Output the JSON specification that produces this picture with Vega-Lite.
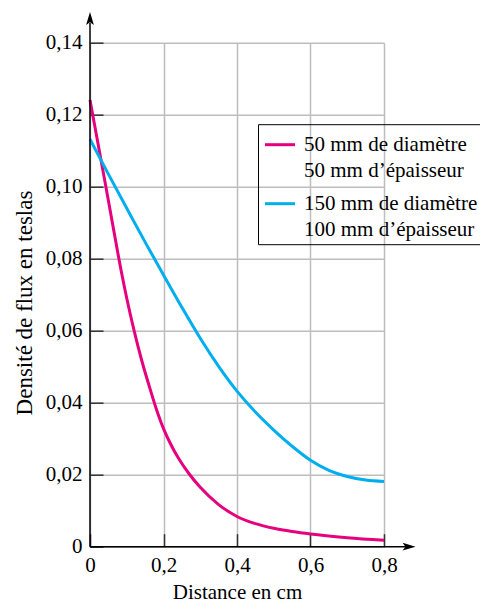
{
  "$schema": "https://vega.github.io/schema/vega-lite/v6.json",
  "width": 294,
  "height": 504,
  "autosize": {"type": "none"},
  "padding": {"left": 90, "top": 42.7, "right": 96, "bottom": 56.3},
  "background": "white",
  "config": {
    "view": {"stroke": null},
    "font": "Liberation Serif",
    "style": {
      "guide-label": {"font": "Liberation Serif", "lineHeight": 26},
      "guide-title": {"font": "Liberation Serif"}
    }
  },
  "layer": [
    {
      "data": {"values": [
        {"d": 0, "b": 0.1241, "s": "50 mm de diamètre|50 mm d’épaisseur"},
        {"d": 0.02, "b": 0.1130, "s": "50 mm de diamètre|50 mm d’épaisseur"},
        {"d": 0.04, "b": 0.1018, "s": "50 mm de diamètre|50 mm d’épaisseur"},
        {"d": 0.06, "b": 0.0905, "s": "50 mm de diamètre|50 mm d’épaisseur"},
        {"d": 0.08, "b": 0.0792, "s": "50 mm de diamètre|50 mm d’épaisseur"},
        {"d": 0.10, "b": 0.0690, "s": "50 mm de diamètre|50 mm d’épaisseur"},
        {"d": 0.12, "b": 0.0600, "s": "50 mm de diamètre|50 mm d’épaisseur"},
        {"d": 0.14, "b": 0.0520, "s": "50 mm de diamètre|50 mm d’épaisseur"},
        {"d": 0.16, "b": 0.0450, "s": "50 mm de diamètre|50 mm d’épaisseur"},
        {"d": 0.18, "b": 0.0384, "s": "50 mm de diamètre|50 mm d’épaisseur"},
        {"d": 0.20, "b": 0.0328, "s": "50 mm de diamètre|50 mm d’épaisseur"},
        {"d": 0.22, "b": 0.0284, "s": "50 mm de diamètre|50 mm d’épaisseur"},
        {"d": 0.24, "b": 0.0247, "s": "50 mm de diamètre|50 mm d’épaisseur"},
        {"d": 0.27, "b": 0.0202, "s": "50 mm de diamètre|50 mm d’épaisseur"},
        {"d": 0.30, "b": 0.0165, "s": "50 mm de diamètre|50 mm d’épaisseur"},
        {"d": 0.35, "b": 0.0117, "s": "50 mm de diamètre|50 mm d’épaisseur"},
        {"d": 0.40, "b": 0.0084, "s": "50 mm de diamètre|50 mm d’épaisseur"},
        {"d": 0.45, "b": 0.0064, "s": "50 mm de diamètre|50 mm d’épaisseur"},
        {"d": 0.50, "b": 0.0051, "s": "50 mm de diamètre|50 mm d’épaisseur"},
        {"d": 0.55, "b": 0.0042, "s": "50 mm de diamètre|50 mm d’épaisseur"},
        {"d": 0.60, "b": 0.0035, "s": "50 mm de diamètre|50 mm d’épaisseur"},
        {"d": 0.70, "b": 0.0025, "s": "50 mm de diamètre|50 mm d’épaisseur"},
        {"d": 0.80, "b": 0.0018, "s": "50 mm de diamètre|50 mm d’épaisseur"},
        {"d": 0, "b": 0.1132, "s": "150 mm de diamètre|100 mm d’épaisseur"},
        {"d": 0.05, "b": 0.1035, "s": "150 mm de diamètre|100 mm d’épaisseur"},
        {"d": 0.10, "b": 0.0940, "s": "150 mm de diamètre|100 mm d’épaisseur"},
        {"d": 0.15, "b": 0.0846, "s": "150 mm de diamètre|100 mm d’épaisseur"},
        {"d": 0.20, "b": 0.0755, "s": "150 mm de diamètre|100 mm d’épaisseur"},
        {"d": 0.25, "b": 0.0665, "s": "150 mm de diamètre|100 mm d’épaisseur"},
        {"d": 0.30, "b": 0.0579, "s": "150 mm de diamètre|100 mm d’épaisseur"},
        {"d": 0.35, "b": 0.0501, "s": "150 mm de diamètre|100 mm d’épaisseur"},
        {"d": 0.40, "b": 0.0432, "s": "150 mm de diamètre|100 mm d’épaisseur"},
        {"d": 0.45, "b": 0.0374, "s": "150 mm de diamètre|100 mm d’épaisseur"},
        {"d": 0.50, "b": 0.0324, "s": "150 mm de diamètre|100 mm d’épaisseur"},
        {"d": 0.55, "b": 0.0279, "s": "150 mm de diamètre|100 mm d’épaisseur"},
        {"d": 0.60, "b": 0.0240, "s": "150 mm de diamètre|100 mm d’épaisseur"},
        {"d": 0.65, "b": 0.0212, "s": "150 mm de diamètre|100 mm d’épaisseur"},
        {"d": 0.70, "b": 0.0195, "s": "150 mm de diamètre|100 mm d’épaisseur"},
        {"d": 0.75, "b": 0.0185, "s": "150 mm de diamètre|100 mm d’épaisseur"},
        {"d": 0.80, "b": 0.0181, "s": "150 mm de diamètre|100 mm d’épaisseur"}
      ]},
      "mark": {"type": "line", "strokeWidth": 3, "interpolate": "monotone"},
      "encoding": {
        "x": {
          "field": "d", "type": "quantitative",
          "scale": {"domain": [0, 0.8], "nice": false, "zero": true},
          "axis": {
            "values": [0, 0.2, 0.4, 0.6, 0.8],
            "title": "Distance en cm",
            "titleFont": "Liberation Serif", "titleFontSize": 21, "titleFontWeight": "normal", "titleColor": "black",
            "titleBaseline": "alphabetic", "titleY": 51.5,
            "labelExpr": "datum.value == 0 ? '0' : replace(format(datum.value, '.1f'), '.', ',')",
            "labelFont": "Liberation Serif", "labelFontSize": 21, "labelColor": "black",
            "labelPadding": 21, "labelFlush": false,
            "domain": false,
            "tickSize": -13, "tickColor": "#333333", "tickWidth": 1.5,
            "grid": true, "gridColor": "#BDBDBD", "gridWidth": 1.5
          }
        },
        "y": {
          "field": "b", "type": "quantitative",
          "scale": {"domain": [0, 0.14], "nice": false, "zero": true},
          "axis": {
            "values": [0, 0.02, 0.04, 0.06, 0.08, 0.1, 0.12, 0.14],
            "title": "Densité de flux en teslas",
            "titleFont": "Liberation Serif", "titleFontSize": 23, "titleFontWeight": "normal", "titleColor": "black",
            "titleAngle": -90, "titleAlign": "center", "titleBaseline": "alphabetic",
            "titleX": -58.3, "titleY": 259.8,
            "labelExpr": "datum.value == 0 ? '0' : replace(format(datum.value, '.2f'), '.', ',')",
            "labelFont": "Liberation Serif", "labelFontSize": 21, "labelColor": "black",
            "labelPadding": 21, "labelFlush": false,
            "domain": false,
            "tickSize": -13, "tickColor": "#333333", "tickWidth": 1.5,
            "grid": true, "gridColor": "#BDBDBD", "gridWidth": 1.5
          }
        },
        "color": {
          "field": "s", "type": "nominal",
          "scale": {
            "domain": ["50 mm de diamètre|50 mm d’épaisseur", "150 mm de diamètre|100 mm d’épaisseur"],
            "range": ["#E6007E", "#00AEEF"]
          },
          "legend": {
            "orient": "none", "legendX": 168, "legendY": 81.5,
            "title": null,
            "strokeColor": "black",
            "padding": 4, "rowPadding": 6,
            "symbolType": "stroke", "symbolSize": 900, "symbolStrokeWidth": 3,
            "symbolOffset": 1.5,
            "labelExpr": "split(datum.label, '|')",
            "labelFont": "Liberation Serif", "labelFontSize": 21, "labelColor": "black",
            "labelLimit": 400, "labelOffset": 7.5
          }
        }
      }
    },
    {
      "data": {"values": [{"x": 0, "y": 0, "x2": 0, "y2": 0.1455}, {"x": 0, "y": 0, "x2": 0.862, "y2": 0}]},
      "mark": {"type": "rule", "color": "black", "strokeWidth": 1.5},
      "encoding": {
        "x": {"field": "x", "type": "quantitative"},
        "y": {"field": "y", "type": "quantitative"},
        "x2": {"field": "x2"},
        "y2": {"field": "y2"}
      }
    },
    {
      "data": {"values": [{"x": 0, "y": 0.1467}]},
      "mark": {"type": "point", "filled": true, "color": "black", "opacity": 1, "size": 169, "shape": "M0,-1L0.6,1L0,0.55L-0.6,1Z"},
      "encoding": {
        "x": {"field": "x", "type": "quantitative"},
        "y": {"field": "y", "type": "quantitative"}
      }
    },
    {
      "data": {"values": [{"x": 0.8682, "y": 0}]},
      "mark": {"type": "point", "filled": true, "color": "black", "opacity": 1, "size": 169, "shape": "M1,0L-1,-0.6L-0.55,0L-1,0.6Z"},
      "encoding": {
        "x": {"field": "x", "type": "quantitative"},
        "y": {"field": "y", "type": "quantitative"}
      }
    }
  ]
}
